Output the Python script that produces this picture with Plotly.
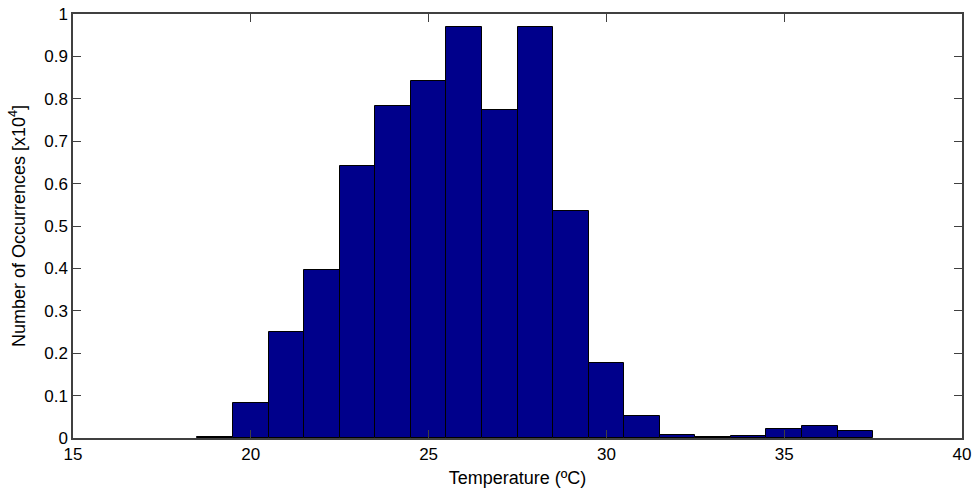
import plotly.graph_objects as go

bin_centers = [19, 20, 21, 22, 23, 24, 25, 26, 27, 28, 29, 30, 31, 32, 33, 34, 35, 36, 37]
counts = [0.003, 0.083, 0.25, 0.396, 0.641, 0.782, 0.843, 0.970, 0.774, 0.970, 0.535,
          0.178, 0.051, 0.006, 0.002, 0.005, 0.022, 0.028, 0.017]
x_ticks = [15, 20, 25, 30, 35, 40]
y_ticks = [0, 0.1, 0.2, 0.3, 0.4, 0.5, 0.6, 0.7, 0.8, 0.9, 1]
y_tick_labels = ["0", "0.1", "0.2", "0.3", "0.4", "0.5", "0.6", "0.7", "0.8", "0.9", "1"]

fig = go.Figure(go.Bar(
    x=bin_centers, y=counts, width=1,
    marker=dict(color="#00008B", line=dict(color="black", width=1)),
))

font = "Liberation Sans, Arial, sans-serif"
axis_common = dict(
    showgrid=False, zeroline=False, showline=True, linecolor="#404040", linewidth=1.5,
    mirror="ticks", ticks="inside", ticklen=8, tickcolor="#404040",
    tickfont=dict(family=font, size=17, color="black"),
)
fig.update_layout(
    width=977, height=490,
    margin=dict(l=73, r=15, t=14, b=52, autoexpand=False),
    paper_bgcolor="white", plot_bgcolor="white",
    showlegend=False, bargap=0,
    xaxis=dict(range=[15, 40], tickvals=x_ticks, automargin=False,
               title=dict(text="Temperature (ºC)",
                          font=dict(family=font, size=18, color="black"), standoff=8),
               **axis_common),
    yaxis=dict(range=[0, 1], tickvals=y_ticks, ticktext=y_tick_labels, automargin=False,
               title=dict(text="Number of Occurrences [x10<sup>4</sup>]",
                          font=dict(family=font, size=18, color="black"), standoff=14),
               **axis_common),
)
fig.write_html("out.html")
